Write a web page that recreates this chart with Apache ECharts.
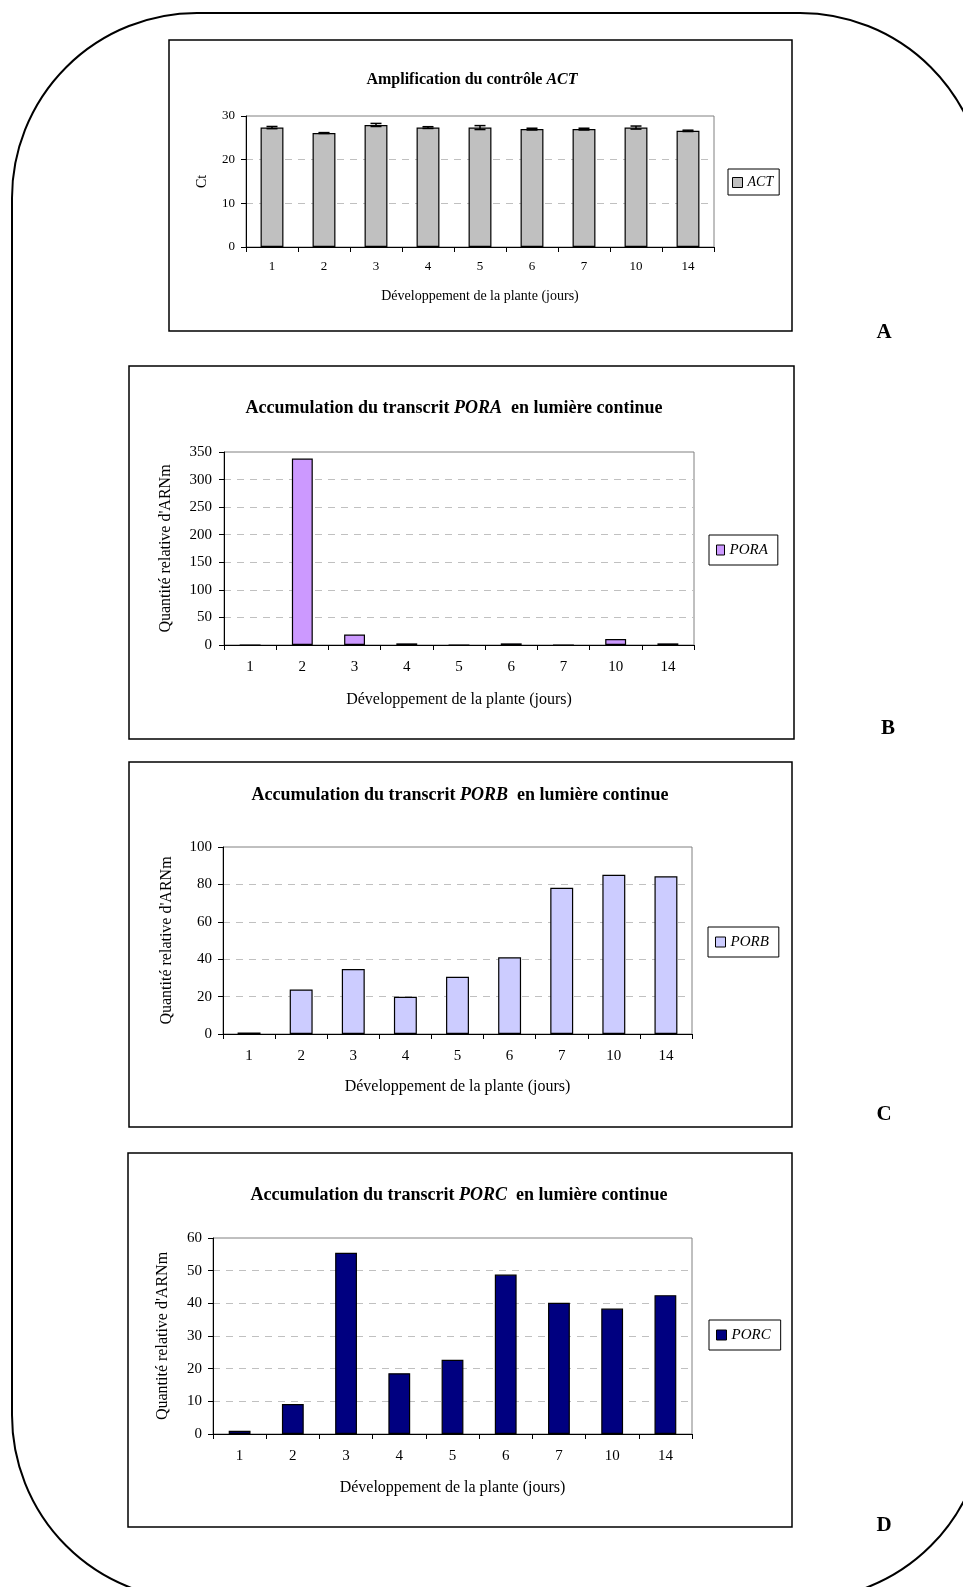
<!DOCTYPE html>
<html><head><meta charset="utf-8">
<script src="https://cdn.jsdelivr.net/npm/echarts@6/dist/echarts.min.js"></script>
<style>html,body{margin:0;padding:0;background:#fff}#c{width:963px;height:1587px}</style>
</head><body><div id="c"></div>
<script>
// ---- data ----
const categories = ['1', '2', '3', '4', '5', '6', '7', '10', '14'];
const actValues = [27.35, 26.1, 27.95, 27.35, 27.35, 27.0, 27.0, 27.35, 26.6];
const actErrors = [0.25, 0.1, 0.35, 0.2, 0.45, 0.2, 0.2, 0.35, 0.15];
const poraValues = [0, 338, 19, 3, 0, 3, 0, 11, 3];
const porbValues = [0.8, 23.8, 34.7, 19.9, 30.6, 41, 78.2, 85.2, 84.3];
const porcValues = [1.0, 9.2, 55.5, 18.6, 22.7, 48.8, 40.2, 38.4, 42.5];
const actTicks = [0, 10, 20, 30];
const poraTicks = [0, 50, 100, 150, 200, 250, 300, 350];
const porbTicks = [0, 20, 40, 60, 80, 100];
const porcTicks = [0, 10, 20, 30, 40, 50, 60];
const xName = 'Développement de la plante (jours)';
const yNameAct = 'Ct';
const yNameQuant = "Quantité relative d'ARNm";
const panelLetters = ['A', 'B', 'C', 'D'];

const FONT = "'Liberation Serif','Times New Roman',serif";

const panels = [
  { series: 'ACT', values: actValues, ticks: actTicks, color: '#C0C0C0', yName: yNameAct,
    titlePre: 'Amplification du contrôle ', titleIt: 'ACT', titlePost: '',
    grid: { left: 246, top: 116, width: 468, height: 131 }, box: [169, 40, 792, 331],
    titleX: 472, titleY: 80, titleSize: 16, tickSize: 13, nameSize: 14,
    yNameGap: 37, xNameGap: 42, yLabelMargin: 11, xLabelMargin: 13, barWidth: '44%',
    legend: { left: 728, top: 169, padding: [6, 6, 5, 4], size: 14, iw: 10, ih: 10 },
    letter: [884, 333] },
  { series: 'PORA', values: poraValues, ticks: poraTicks, color: '#CC99FF', yName: yNameQuant,
    titlePre: 'Accumulation du transcrit ', titleIt: 'PORA', titlePost: '  en lumière continue',
    grid: { left: 224, top: 452, width: 470, height: 193 }, box: [129, 366, 794, 739],
    titleX: 454, titleY: 408, titleSize: 18, tickSize: 15, nameSize: 16,
    yNameGap: 50, xNameGap: 47, yLabelMargin: 12, xLabelMargin: 15, barWidth: '40%',
    legend: { left: 709, top: 535, padding: [7, 10, 7, 7], size: 15, iw: 8, ih: 10 },
    letter: [888, 729] },
  { series: 'PORB', values: porbValues, ticks: porbTicks, color: '#CCCCFF', yName: yNameQuant,
    titlePre: 'Accumulation du transcrit ', titleIt: 'PORB', titlePost: '  en lumière continue',
    grid: { left: 223, top: 847, width: 469, height: 187 }, box: [129, 762, 792, 1127],
    titleX: 460, titleY: 795, titleSize: 18, tickSize: 15, nameSize: 16,
    yNameGap: 48, xNameGap: 45, yLabelMargin: 11, xLabelMargin: 15, barWidth: '44%',
    legend: { left: 708, top: 927, padding: [7, 10, 7, 7], size: 15, iw: 10, ih: 10 },
    letter: [884, 1115] },
  { series: 'PORC', values: porcValues, ticks: porcTicks, color: '#000080', yName: yNameQuant,
    titlePre: 'Accumulation du transcrit ', titleIt: 'PORC', titlePost: '  en lumière continue',
    grid: { left: 213, top: 1238, width: 479, height: 196 }, box: [128, 1153, 792, 1527],
    titleX: 459, titleY: 1195, titleSize: 18, tickSize: 15, nameSize: 16,
    yNameGap: 42, xNameGap: 46, yLabelMargin: 11, xLabelMargin: 15, barWidth: '41%',
    legend: { left: 709, top: 1320, padding: [7, 10, 7, 7], size: 15, iw: 10, ih: 10 },
    letter: [884, 1526] }
];

const option = {
  backgroundColor: '#fff',
  animation: false,
  title: [], legend: [], grid: [], xAxis: [], yAxis: [], series: [],
  graphic: []
};

// outer rounded frame
option.graphic.push({
  type: 'rect', silent: true, z: 0,
  shape: { x: 12, y: 13, width: 973, height: 1587, r: 185 },
  style: { fill: 'none', stroke: '#000', lineWidth: 2 }
});

panels.forEach((p, i) => {
  const [x0, y0, x1, y1] = p.box;
  option.graphic.push({
    type: 'rect', silent: true, z: 0,
    shape: { x: x0, y: y0, width: x1 - x0, height: y1 - y0 },
    style: { fill: 'none', stroke: '#000', lineWidth: 1.5 }
  });
  option.graphic.push({
    type: 'text', silent: true, z: 5,
    x: p.letter[0], y: p.letter[1],
    style: { text: panelLetters[i], font: 'bold 21px ' + FONT, fill: '#000', align: 'center', verticalAlign: 'middle' }
  });

  const lh = p.titleSize + 4;
  option.title.push({
    left: p.titleX, top: p.titleY - lh / 2, textAlign: 'center', padding: 0,
    text: '{b|' + p.titlePre + '}{bi|' + p.titleIt + '}' + (p.titlePost ? '{b|' + p.titlePost + '}' : ''),
    textStyle: {
      rich: {
        b: { fontFamily: FONT, fontWeight: 'bold', fontSize: p.titleSize, color: '#000', lineHeight: lh },
        bi: { fontFamily: FONT, fontWeight: 'bold', fontStyle: 'italic', fontSize: p.titleSize, color: '#000', lineHeight: lh }
      }
    }
  });

  option.legend.push({
    left: p.legend.left, top: p.legend.top, padding: p.legend.padding,
    orient: 'horizontal', selectedMode: false, icon: 'rect',
    itemWidth: p.legend.iw, itemHeight: p.legend.ih,
    borderColor: '#000', borderWidth: 1, backgroundColor: '#fff',
    data: [p.series],
    itemStyle: { borderColor: '#000', borderWidth: 1 },
    textStyle: { fontFamily: FONT, fontStyle: 'italic', fontSize: p.legend.size, color: '#000', lineHeight: p.legend.size + 1, padding: 0 }
  });

  option.grid.push(Object.assign({ show: true, borderColor: '#808080', borderWidth: 1, backgroundColor: 'transparent', containLabel: false }, p.grid));

  option.xAxis.push({
    type: 'category', gridIndex: i, data: categories, boundaryGap: true,
    name: xName, nameLocation: 'middle', nameGap: p.xNameGap,
    nameTextStyle: { fontFamily: FONT, fontSize: p.nameSize, color: '#000' },
    axisLine: { show: true, lineStyle: { color: '#000', width: 1 } },
    axisTick: { show: true, length: 5, lineStyle: { color: '#000' } },
    axisLabel: { fontFamily: FONT, fontSize: p.tickSize, color: '#000', margin: p.xLabelMargin, interval: 0 },
    splitLine: { show: false }
  });

  const tk = p.ticks;
  option.yAxis.push({
    type: 'value', gridIndex: i, min: tk[0], max: tk[tk.length - 1], interval: tk[1] - tk[0],
    name: p.yName, nameLocation: 'middle', nameGap: p.yNameGap, nameRotate: 90,
    nameTextStyle: { fontFamily: FONT, fontSize: p.nameSize, color: '#000' },
    axisLine: { show: true, lineStyle: { color: '#000', width: 1 } },
    axisTick: { show: true, length: 5, lineStyle: { color: '#000' } },
    axisLabel: { fontFamily: FONT, fontSize: p.tickSize, color: '#000', margin: p.yLabelMargin },
    splitLine: { show: true, showMinLine: false, showMaxLine: false, lineStyle: { color: '#C0C0C0', type: [7, 6], width: 1 } }
  });

  option.series.push({
    type: 'bar', name: p.series, xAxisIndex: i, yAxisIndex: i,
    data: p.values, barWidth: p.barWidth,
    itemStyle: { color: p.color, borderColor: '#000', borderWidth: 1.2 },
    emphasis: { disabled: true }, z: 3
  });
});

// error bars on ACT
option.series.push({
  type: 'custom', name: 'ACT-err', xAxisIndex: 0, yAxisIndex: 0, silent: true, z: 10,
  encode: { x: 0, y: [1, 2] },
  data: categories.map((c, i) => [i, actValues[i] - actErrors[i], actValues[i] + actErrors[i]]),
  renderItem: function (params, api) {
    const lo = api.coord([api.value(0), api.value(1)]);
    const hi = api.coord([api.value(0), api.value(2)]);
    const w = 5.5;
    const st = { stroke: '#000', lineWidth: 1.5 };
    return {
      type: 'group', children: [
        { type: 'line', shape: { x1: lo[0], y1: lo[1], x2: hi[0], y2: hi[1] }, style: st },
        { type: 'line', shape: { x1: lo[0] - w, y1: lo[1], x2: lo[0] + w, y2: lo[1] }, style: st },
        { type: 'line', shape: { x1: hi[0] - w, y1: hi[1], x2: hi[0] + w, y2: hi[1] }, style: st }
      ]
    };
  }
});

const chart = echarts.init(document.getElementById('c'), null, { renderer: 'canvas', width: 963, height: 1587 });
chart.setOption(option);
</script>
</body></html>
